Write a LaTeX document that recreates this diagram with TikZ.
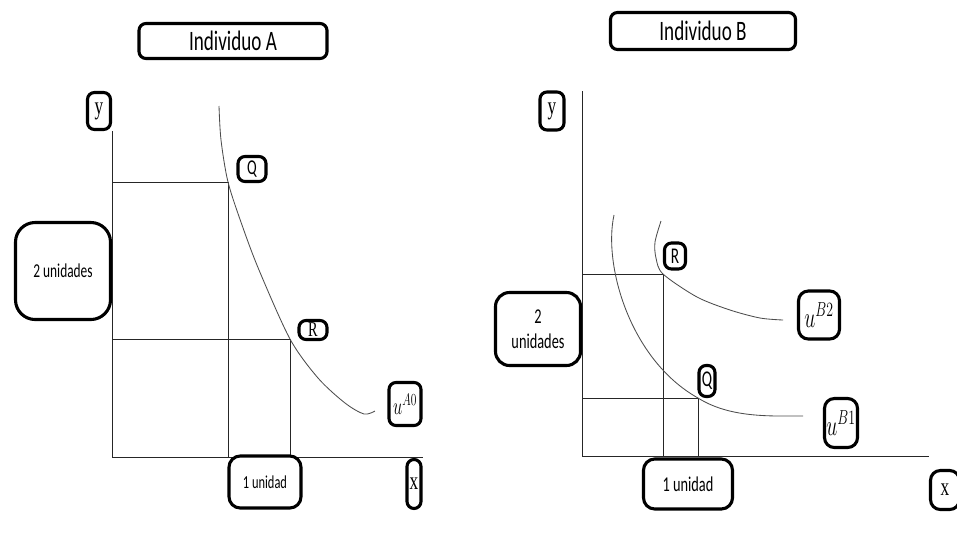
\documentclass[tikz,border=0pt]{standalone}
\usepackage{fontspec}
\usepackage{graphicx}
\setmainfont{Carlito}
\newfontfamily\serifa{Liberation Serif}
\newcommand{\angosto}[1]{\scalebox{0.68}[1]{#1}}

\begin{document}
\begin{tikzpicture}[x=0.025cm,y=-0.025cm,
  caja/.style={draw,line width=2.2pt,rounded corners=5pt,fill=white,inner sep=0pt,align=center},
  eje/.style={draw=black!85,line width=0.7pt},
  curva/.style={draw=black!70,line width=0.6pt}]
\useasboundingbox (0,0) rectangle (957,535);

% Individuo A
\coordinate (oA) at (112,457);
\coordinate (topA) at (112,131);
\coordinate (finA) at (423,457);
\coordinate (pQA) at (228,182);
\coordinate (pRA) at (290,339);
\draw[eje] (topA) -- (oA) -- (finA);
\draw[eje] (oA |- pQA) -- (pQA) -- (pQA |- oA);
\draw[eje] (oA |- pRA) -- (pRA) -- (pRA |- oA);
\draw[curva] plot[smooth] coordinates {(219,106) (221,140) (pQA) (242,225) (259,270) (pRA) (318,378) (345,403) (364,414) (375,411)};

\node[caja,minimum width=4.7cm,minimum height=0.875cm,font=\fontsize{20}{24}\selectfont] (titA) at (233,41) {\angosto{Individuo A}};
\node[caja,minimum width=0.575cm,minimum height=0.925cm,font=\fontsize{18}{22}\selectfont\serifa] (yA) at (99,111) {\angosto{y}};
\node[caja,rounded corners=14pt,minimum width=2.375cm,minimum height=2.425cm,font=\fontsize{14}{17}\selectfont] (dosA) at (63,271) {\angosto{2 unidades}};
\node[caja,minimum width=0.7cm,minimum height=0.625cm,font=\fontsize{15}{18}\selectfont] (QA) at (252,169) {\angosto{Q}};
\node[caja,minimum width=0.7cm,minimum height=0.475cm,font=\fontsize{15}{18}\selectfont\serifa] (RA) at (313,330) {\angosto{R}};
\node[caja,minimum width=0.8cm,minimum height=1.075cm,font=\fontsize{18}{22}\selectfont] (uA) at (405,404) {\angosto{$u^{A0}$}};
\node[caja,rounded corners=8pt,minimum width=1.8cm,minimum height=1.3cm,font=\fontsize{13}{16}\selectfont] (unoA) at (265,482) {\angosto{1 unidad}};
\node[caja,minimum width=0.35cm,minimum height=1.225cm,font=\fontsize{18}{22}\selectfont\serifa] (xA) at (414,484) {\angosto{x}};

% Individuo B
\coordinate (oB) at (582,456);
\coordinate (topB) at (582,91);
\coordinate (finB) at (929,456);
\coordinate (pRB) at (663,274);
\coordinate (pQB) at (698,398);
\draw[eje] (topB) -- (oB) -- (finB);
\draw[eje] (oB |- pRB) -- (pRB) -- (pRB |- oB);
\draw[eje] (oB |- pQB) -- (pQB) -- (pQB |- oB);
\draw[curva] plot[smooth] coordinates {(661,221) (655,242) (656,258) (pRB) (697,297) (730,310) (760,318) (783,320)};
\draw[curva] (614,215) .. controls (603,265) and (630,360) .. (pQB)
  .. controls (730,418) and (770,416) .. (803,416);

\node[caja,minimum width=4.625cm,minimum height=0.925cm,font=\fontsize{20}{24}\selectfont] (titB) at (703,31) {\angosto{Individuo B}};
\node[caja,minimum width=0.6cm,minimum height=0.95cm,font=\fontsize{18}{22}\selectfont\serifa] (yB) at (552,111) {\angosto{y}};
\node[caja,rounded corners=10pt,minimum width=2.125cm,minimum height=1.825cm,font=\fontsize{15}{18}\selectfont] (dosB) at (538,329) {\angosto{2}\\\angosto{unidades}};
\node[caja,minimum width=0.525cm,minimum height=0.65cm,font=\fontsize{16}{19}\selectfont] (RB) at (675,256) {\angosto{R}};
\node[caja,minimum width=0.4cm,minimum height=0.775cm,font=\fontsize{16}{19}\selectfont] (QB) at (707,381) {\angosto{Q}};
\node[caja,rounded corners=7pt,minimum width=1.025cm,minimum height=1.2cm,font=\fontsize{22}{26}\selectfont] (uB2) at (819,315) {\angosto{$u^{B2}$}};
\node[caja,rounded corners=7pt,minimum width=0.825cm,minimum height=1.225cm,font=\fontsize{22}{26}\selectfont] (uB1) at (841,423) {\angosto{$u^{B1}$}};
\node[caja,rounded corners=8pt,minimum width=2.225cm,minimum height=1.25cm,font=\fontsize{15}{18}\selectfont] (unoB) at (688,484) {\angosto{1 unidad}};
\node[caja,rounded corners=7pt,minimum width=0.725cm,minimum height=0.975cm,font=\fontsize{18}{22}\selectfont\serifa] (xB) at (945,490) {\angosto{x}};
\end{tikzpicture}
\end{document}
